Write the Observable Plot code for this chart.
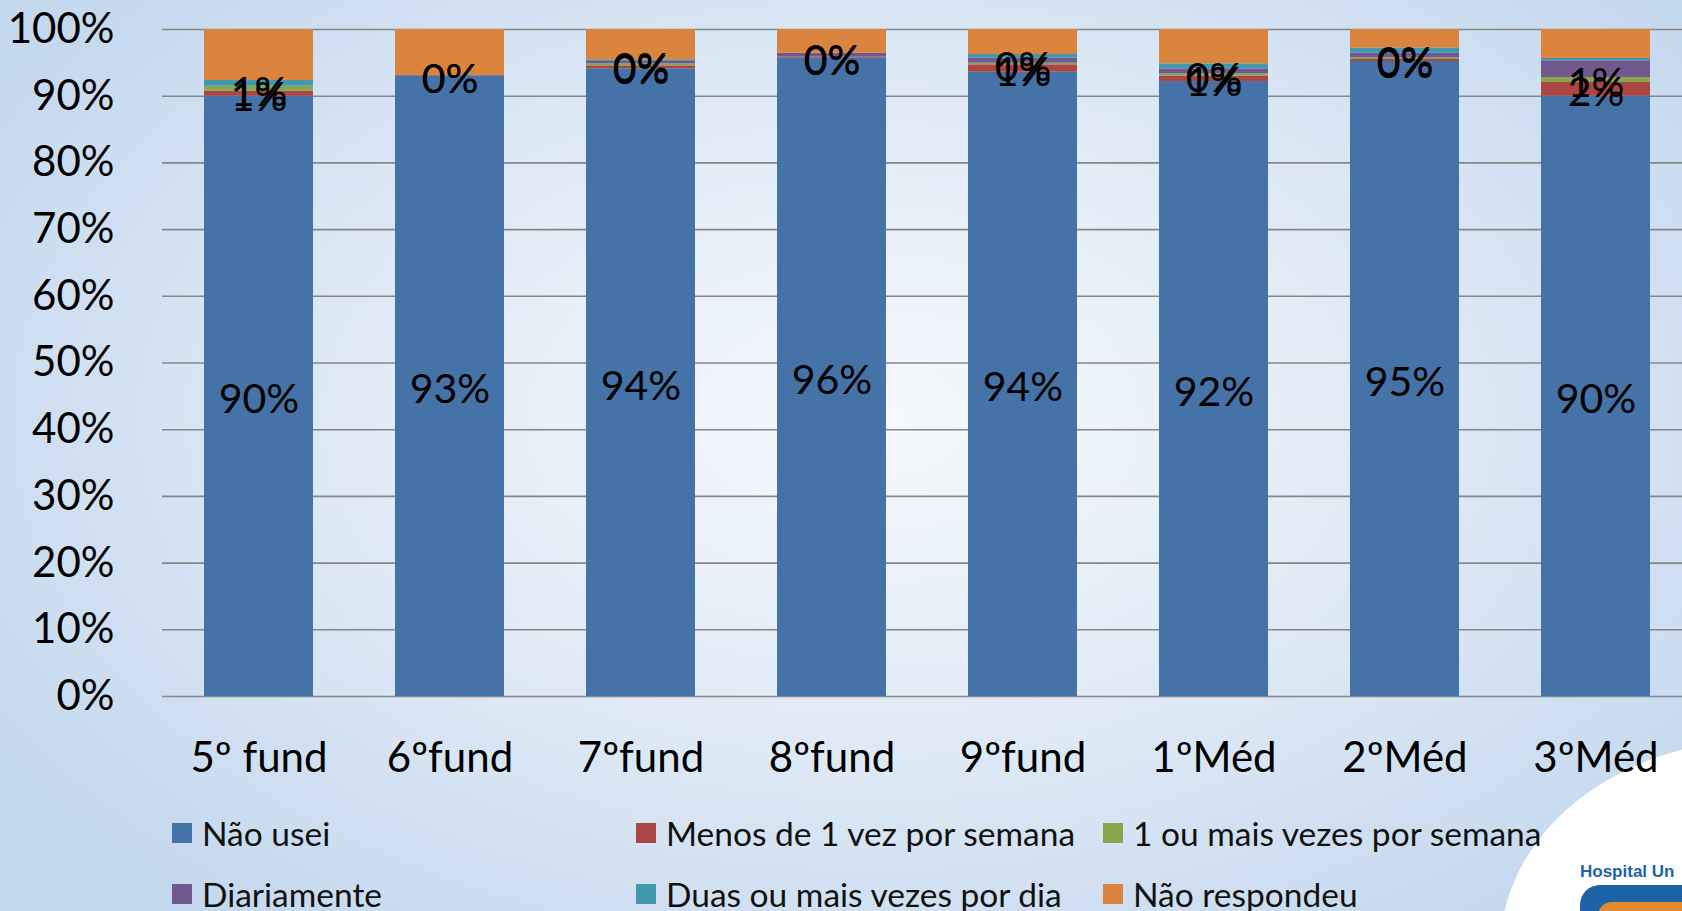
<!DOCTYPE html>
<html>
<head>
<meta charset="utf-8">
<script src="https://cdn.jsdelivr.net/npm/d3@7"></script>
<script src="https://cdn.jsdelivr.net/npm/@observablehq/plot@0.6"></script>
<style>
  html, body { margin:0; padding:0; width:1682px; height:911px; overflow:hidden; }
  body {
    background: radial-gradient(ellipse 62% 70% at 52% 46%, #f6f9fd 0%, #e2ecf7 45%, #c4d8ee 100%);
    font-family: Lato, "Open Sans", sans-serif;
  }
  #wrap { position:relative; width:1682px; height:911px; }
  #chart { position:absolute; left:0; top:0; }
  .leg { position:absolute; display:flex; align-items:center; font-size:33.5px; color:#111; white-space:nowrap; }
  .sw { width:20px; height:20px; margin-right:10px; }
  #swoosh { position:absolute; left:1500px; top:740px; width:520px; height:420px; border-radius:50%; background:#fff; }
  #logo { position:absolute; left:1580px; top:862px; font: bold 17px "Liberation Sans", Arial, sans-serif; color:#1d63a8; }
  #logobar { position:absolute; left:1580px; top:885px; width:140px; height:40px; border-radius:20px 0 0 0; background:#1d63a8; }
  #logobar2 { position:absolute; left:1598px; top:902px; width:120px; height:20px; border-radius:14px 0 0 0; background:#e3892f; }
</style>
</head>
<body>
<div id="wrap">
  <div id="swoosh"></div>
  <div id="chart"></div>
  <div id="legend"></div>
  <div id="logo">Hospital Un</div>
  <div id="logobar"></div>
  <div id="logobar2"></div>
</div>
<script>
const categories = ["5º fund", "6ºfund", "7ºfund", "8ºfund", "9ºfund", "1ºMéd", "2ºMéd", "3ºMéd"];
const series = ["Não usei", "Menos de 1 vez por semana", "1 ou mais vezes por semana", "Diariamente", "Duas ou mais vezes por dia", "Não respondeu"];
const colors = ["#4572A7", "#AA4643", "#89A54E", "#71588F", "#4198AF", "#DB843D"];
const yTicks = [0, 10, 20, 30, 40, 50, 60, 70, 80, 90, 100];

// values in percent, per category
const naoUsei        = [90.0, 93.0, 94.1, 95.7, 93.6, 92.2, 95.2, 90.0];
const menosDe1       = [0.75, 0.0, 0.45, 0.15, 1.1, 0.8, 0.3, 2.05];
const umOuMais       = [0.75, 0.0, 0.3, 0.0, 0.25, 0.35, 0.25, 0.75];
const diariamente    = [0.0, 0.1, 0.35, 0.6, 0.75, 0.75, 0.7, 2.5];
const duasOuMais     = [0.85, 0.0, 0.25, 0.0, 0.55, 0.75, 0.75, 0.35];
const naoRespondeu   = [7.65, 6.9, 4.55, 3.55, 3.75, 5.15, 2.8, 4.35];
const labeledSeries = ["Não usei", "Menos de 1 vez por semana", "1 ou mais vezes por semana"];

const seriesValues = [naoUsei, menosDe1, umOuMais, diariamente, duasOuMais, naoRespondeu];
const rows = [];
series.forEach((s, si) => {
  categories.forEach((c, ci) => {
    rows.push({cat: c, series: s, value: seriesValues[si][ci]});
  });
});

const chart = Plot.plot({
  width: 1682,
  height: 800,
  marginTop: 29,
  marginBottom: 104,
  marginLeft: 162,
  marginRight: -10,
  style: {background: "transparent", fontFamily: "Lato, 'Open Sans', sans-serif", fontSize: "42px", color: "#000", overflow: "visible"},
  x: {domain: categories, paddingInner: 0.43, paddingOuter: 0.214, label: null, tickSize: 0, tickPadding: 46},
  y: {domain: [0, 100], ticks: yTicks, tickFormat: d => d + "%", label: null, tickSize: 0, tickPadding: 48},
  color: {domain: series, range: colors},
  marks: [
    Plot.gridY(yTicks, {stroke: "#878787", strokeOpacity: 1, strokeWidth: 1.6}),
    Plot.barY(rows, {x: "cat", y: "value", fill: "series", order: series}),
    Plot.text(rows, Plot.stackY({
      x: "cat", y: "value", z: "series", order: series,
      text: d => labeledSeries.includes(d.series) ? Math.round(d.value) + "%" : "",
      fill: "#000", fontSize: 41, dy: 4
    }))
  ]
});
document.getElementById("chart").appendChild(chart);

// legend
const legendPos = [
  [172, 833], [636, 833], [1103, 833],
  [172, 894], [636, 894], [1103, 894]
];
const legend = document.getElementById("legend");
series.forEach((s, i) => {
  const item = document.createElement("div");
  item.className = "leg";
  item.style.left = legendPos[i][0] + "px";
  item.style.top = (legendPos[i][1] - 20) + "px";
  item.style.height = "40px";
  const sw = document.createElement("div");
  sw.className = "sw";
  sw.style.background = colors[i];
  const t = document.createElement("span");
  t.textContent = s;
  item.appendChild(sw);
  item.appendChild(t);
  legend.appendChild(item);
});
</script>
</body>
</html>
